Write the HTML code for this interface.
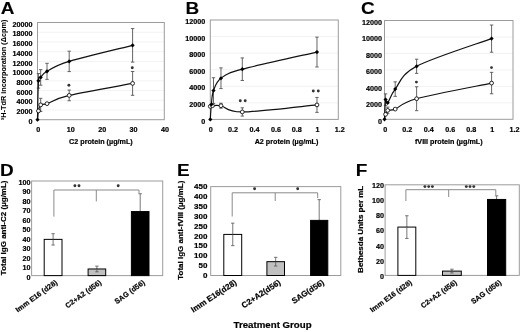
<!DOCTYPE html>
<html><head><meta charset="utf-8"><style>
html,body{margin:0;padding:0;background:#fff;}
svg{display:block;filter:grayscale(100%) blur(0.3px);}
text{font-family:"Liberation Sans", sans-serif;stroke:#000;stroke-width:0.2px;}
</style></head><body>
<svg width="520" height="332" viewBox="0 0 520 332">
<rect width="520" height="332" fill="#fff"/>
<text x="32.50" y="123.90" font-size="7.2" text-anchor="end" font-weight="bold" fill="#000">0</text>
<line x1="37.50" y1="109.98" x2="164.30" y2="109.98" stroke="#f3f3f3" stroke-width="1"/>
<text x="32.50" y="114.18" font-size="7.2" text-anchor="end" font-weight="bold" fill="#000">2000</text>
<line x1="37.50" y1="100.26" x2="164.30" y2="100.26" stroke="#f3f3f3" stroke-width="1"/>
<text x="32.50" y="104.46" font-size="7.2" text-anchor="end" font-weight="bold" fill="#000">4000</text>
<line x1="37.50" y1="90.54" x2="164.30" y2="90.54" stroke="#f3f3f3" stroke-width="1"/>
<text x="32.50" y="94.74" font-size="7.2" text-anchor="end" font-weight="bold" fill="#000">6000</text>
<line x1="37.50" y1="80.82" x2="164.30" y2="80.82" stroke="#f3f3f3" stroke-width="1"/>
<text x="32.50" y="85.02" font-size="7.2" text-anchor="end" font-weight="bold" fill="#000">8000</text>
<line x1="37.50" y1="71.10" x2="164.30" y2="71.10" stroke="#f3f3f3" stroke-width="1"/>
<text x="32.50" y="75.30" font-size="7.2" text-anchor="end" font-weight="bold" fill="#000">10000</text>
<line x1="37.50" y1="61.38" x2="164.30" y2="61.38" stroke="#f3f3f3" stroke-width="1"/>
<text x="32.50" y="65.58" font-size="7.2" text-anchor="end" font-weight="bold" fill="#000">12000</text>
<line x1="37.50" y1="51.66" x2="164.30" y2="51.66" stroke="#f3f3f3" stroke-width="1"/>
<text x="32.50" y="55.86" font-size="7.2" text-anchor="end" font-weight="bold" fill="#000">14000</text>
<line x1="37.50" y1="41.94" x2="164.30" y2="41.94" stroke="#f3f3f3" stroke-width="1"/>
<text x="32.50" y="46.14" font-size="7.2" text-anchor="end" font-weight="bold" fill="#000">16000</text>
<line x1="37.50" y1="32.22" x2="164.30" y2="32.22" stroke="#f3f3f3" stroke-width="1"/>
<text x="32.50" y="36.42" font-size="7.2" text-anchor="end" font-weight="bold" fill="#000">18000</text>
<text x="32.50" y="26.70" font-size="7.2" text-anchor="end" font-weight="bold" fill="#000">20000</text>
<rect x="37.50" y="22.50" width="126.80" height="97.20" fill="none" stroke="#9c9c9c" stroke-width="1"/>
<text x="38.30" y="131.90" font-size="7.2" text-anchor="middle" font-weight="bold" fill="#000">0</text>
<text x="70.70" y="131.90" font-size="7.2" text-anchor="middle" font-weight="bold" fill="#000">10</text>
<text x="102.30" y="131.90" font-size="7.2" text-anchor="middle" font-weight="bold" fill="#000">20</text>
<text x="133.50" y="131.90" font-size="7.2" text-anchor="middle" font-weight="bold" fill="#000">30</text>
<text x="165.10" y="131.90" font-size="7.2" text-anchor="middle" font-weight="bold" fill="#000">40</text>
<text x="100.90" y="143.90" font-size="7.2" text-anchor="middle" font-weight="bold" fill="#000">C2 protein (µg/mL)</text>
<line x1="38.45" y1="73.53" x2="38.45" y2="88.11" stroke="#555" stroke-width="0.9"/>
<line x1="36.75" y1="73.53" x2="40.15" y2="73.53" stroke="#555" stroke-width="0.9"/>
<line x1="36.75" y1="88.11" x2="40.15" y2="88.11" stroke="#555" stroke-width="0.9"/>
<line x1="40.67" y1="69.64" x2="40.67" y2="85.19" stroke="#555" stroke-width="0.9"/>
<line x1="38.97" y1="69.64" x2="42.37" y2="69.64" stroke="#555" stroke-width="0.9"/>
<line x1="38.97" y1="85.19" x2="42.37" y2="85.19" stroke="#555" stroke-width="0.9"/>
<line x1="47.01" y1="63.32" x2="47.01" y2="79.36" stroke="#555" stroke-width="0.9"/>
<line x1="45.31" y1="63.32" x2="48.71" y2="63.32" stroke="#555" stroke-width="0.9"/>
<line x1="45.31" y1="79.36" x2="48.71" y2="79.36" stroke="#555" stroke-width="0.9"/>
<line x1="69.20" y1="51.17" x2="69.20" y2="71.59" stroke="#555" stroke-width="0.9"/>
<line x1="67.50" y1="51.17" x2="70.90" y2="51.17" stroke="#555" stroke-width="0.9"/>
<line x1="67.50" y1="71.59" x2="70.90" y2="71.59" stroke="#555" stroke-width="0.9"/>
<line x1="132.60" y1="28.58" x2="132.60" y2="62.11" stroke="#555" stroke-width="0.9"/>
<line x1="130.90" y1="28.58" x2="134.30" y2="28.58" stroke="#555" stroke-width="0.9"/>
<line x1="130.90" y1="62.11" x2="134.30" y2="62.11" stroke="#555" stroke-width="0.9"/>
<path d="M37.50,119.70 C37.66,113.22 37.92,87.87 38.45,80.82 C38.98,73.77 39.24,79.00 40.67,77.42 C42.10,75.84 42.25,74.02 47.01,71.34 C51.77,68.67 54.93,65.71 69.20,61.38 C83.47,57.05 122.03,48.02 132.60,45.34" fill="none" stroke="#111" stroke-width="1.2"/>
<line x1="40.67" y1="98.32" x2="40.67" y2="111.44" stroke="#555" stroke-width="0.9"/>
<line x1="38.97" y1="98.32" x2="42.37" y2="98.32" stroke="#555" stroke-width="0.9"/>
<line x1="38.97" y1="111.44" x2="42.37" y2="111.44" stroke="#555" stroke-width="0.9"/>
<line x1="69.20" y1="90.05" x2="69.20" y2="100.75" stroke="#555" stroke-width="0.9"/>
<line x1="67.50" y1="90.05" x2="70.90" y2="90.05" stroke="#555" stroke-width="0.9"/>
<line x1="67.50" y1="100.75" x2="70.90" y2="100.75" stroke="#555" stroke-width="0.9"/>
<line x1="132.60" y1="71.49" x2="132.60" y2="95.30" stroke="#555" stroke-width="0.9"/>
<line x1="130.90" y1="71.49" x2="134.30" y2="71.49" stroke="#555" stroke-width="0.9"/>
<line x1="130.90" y1="95.30" x2="134.30" y2="95.30" stroke="#555" stroke-width="0.9"/>
<path d="M37.50,119.70 C37.66,118.24 37.92,113.42 38.45,110.95 C38.98,108.48 39.24,106.09 40.67,104.88 C42.10,103.66 42.25,105.24 47.01,103.66 C51.77,102.08 54.93,98.78 69.20,95.40 C83.47,92.02 122.03,85.40 132.60,83.40" fill="none" stroke="#111" stroke-width="1.2"/>
<circle cx="38.45" cy="110.95" r="1.9" fill="#fff" stroke="#111" stroke-width="0.9"/>
<circle cx="40.67" cy="104.88" r="1.9" fill="#fff" stroke="#111" stroke-width="0.9"/>
<circle cx="47.01" cy="103.66" r="1.9" fill="#fff" stroke="#111" stroke-width="0.9"/>
<circle cx="69.20" cy="95.40" r="1.9" fill="#fff" stroke="#111" stroke-width="0.9"/>
<circle cx="132.60" cy="83.40" r="1.9" fill="#fff" stroke="#111" stroke-width="0.9"/>
<path d="M37.50,117.60 L39.60,119.70 L37.50,121.80 L35.40,119.70Z" fill="#000"/>
<path d="M38.45,78.72 L40.55,80.82 L38.45,82.92 L36.35,80.82Z" fill="#000"/>
<path d="M40.67,75.32 L42.77,77.42 L40.67,79.52 L38.57,77.42Z" fill="#000"/>
<path d="M47.01,69.24 L49.11,71.34 L47.01,73.44 L44.91,71.34Z" fill="#000"/>
<path d="M69.20,59.28 L71.30,61.38 L69.20,63.48 L67.10,61.38Z" fill="#000"/>
<path d="M132.60,43.24 L134.70,45.34 L132.60,47.44 L130.50,45.34Z" fill="#000"/>
<circle cx="68.90" cy="85.20" r="1.45" fill="#333"/>
<circle cx="132.30" cy="67.80" r="1.45" fill="#333"/>
<text x="6.40" y="69.90" font-size="7.3" text-anchor="middle" font-weight="bold" fill="#000" transform="rotate(-90 6.40 69.90)" style="stroke-width:0.05px">³H-TdR incorporation (Δcpm)</text>
<text x="205.30" y="123.60" font-size="7.2" text-anchor="end" font-weight="bold" fill="#000">0</text>
<line x1="210.30" y1="102.83" x2="338.30" y2="102.83" stroke="#f3f3f3" stroke-width="1"/>
<text x="205.30" y="107.03" font-size="7.2" text-anchor="end" font-weight="bold" fill="#000">2000</text>
<line x1="210.30" y1="86.27" x2="338.30" y2="86.27" stroke="#f3f3f3" stroke-width="1"/>
<text x="205.30" y="90.47" font-size="7.2" text-anchor="end" font-weight="bold" fill="#000">4000</text>
<line x1="210.30" y1="69.70" x2="338.30" y2="69.70" stroke="#f3f3f3" stroke-width="1"/>
<text x="205.30" y="73.90" font-size="7.2" text-anchor="end" font-weight="bold" fill="#000">6000</text>
<line x1="210.30" y1="53.13" x2="338.30" y2="53.13" stroke="#f3f3f3" stroke-width="1"/>
<text x="205.30" y="57.33" font-size="7.2" text-anchor="end" font-weight="bold" fill="#000">8000</text>
<line x1="210.30" y1="36.57" x2="338.30" y2="36.57" stroke="#f3f3f3" stroke-width="1"/>
<text x="205.30" y="40.77" font-size="7.2" text-anchor="end" font-weight="bold" fill="#000">10000</text>
<text x="205.30" y="24.20" font-size="7.2" text-anchor="end" font-weight="bold" fill="#000">12000</text>
<rect x="210.30" y="20.00" width="128.00" height="99.40" fill="none" stroke="#9c9c9c" stroke-width="1"/>
<text x="210.80" y="132.30" font-size="7.2" text-anchor="middle" font-weight="bold" fill="#000">0</text>
<text x="233.10" y="132.30" font-size="7.2" text-anchor="middle" font-weight="bold" fill="#000">0.2</text>
<text x="254.40" y="132.30" font-size="7.2" text-anchor="middle" font-weight="bold" fill="#000">0.4</text>
<text x="275.90" y="132.30" font-size="7.2" text-anchor="middle" font-weight="bold" fill="#000">0.6</text>
<text x="296.70" y="132.30" font-size="7.2" text-anchor="middle" font-weight="bold" fill="#000">0.8</text>
<text x="317.50" y="132.30" font-size="7.2" text-anchor="middle" font-weight="bold" fill="#000">1</text>
<text x="339.80" y="132.30" font-size="7.2" text-anchor="middle" font-weight="bold" fill="#000">1.2</text>
<text x="286.50" y="144.40" font-size="7.2" text-anchor="middle" font-weight="bold" fill="#000">A2 protein (µg/mL)</text>
<line x1="213.50" y1="77.73" x2="213.50" y2="103.41" stroke="#555" stroke-width="0.9"/>
<line x1="211.80" y1="77.73" x2="215.20" y2="77.73" stroke="#555" stroke-width="0.9"/>
<line x1="211.80" y1="103.41" x2="215.20" y2="103.41" stroke="#555" stroke-width="0.9"/>
<line x1="220.97" y1="67.88" x2="220.97" y2="88.59" stroke="#555" stroke-width="0.9"/>
<line x1="219.27" y1="67.88" x2="222.67" y2="67.88" stroke="#555" stroke-width="0.9"/>
<line x1="219.27" y1="88.59" x2="222.67" y2="88.59" stroke="#555" stroke-width="0.9"/>
<line x1="242.30" y1="57.94" x2="242.30" y2="80.47" stroke="#555" stroke-width="0.9"/>
<line x1="240.60" y1="57.94" x2="244.00" y2="57.94" stroke="#555" stroke-width="0.9"/>
<line x1="240.60" y1="80.47" x2="244.00" y2="80.47" stroke="#555" stroke-width="0.9"/>
<line x1="316.97" y1="37.15" x2="316.97" y2="66.97" stroke="#555" stroke-width="0.9"/>
<line x1="315.27" y1="37.15" x2="318.67" y2="37.15" stroke="#555" stroke-width="0.9"/>
<line x1="315.27" y1="66.97" x2="318.67" y2="66.97" stroke="#555" stroke-width="0.9"/>
<path d="M210.30,119.40 C210.48,116.92 210.83,109.29 211.37,104.49 C211.90,99.69 211.90,94.95 213.50,90.57 C215.10,86.20 216.17,81.79 220.97,78.23 C225.77,74.67 226.30,73.57 242.30,69.20 C258.30,64.84 304.52,54.91 316.97,52.06" fill="none" stroke="#111" stroke-width="1.2"/>
<line x1="220.97" y1="103.25" x2="220.97" y2="108.22" stroke="#555" stroke-width="0.9"/>
<line x1="219.27" y1="103.25" x2="222.67" y2="103.25" stroke="#555" stroke-width="0.9"/>
<line x1="219.27" y1="108.22" x2="222.67" y2="108.22" stroke="#555" stroke-width="0.9"/>
<line x1="242.30" y1="107.80" x2="242.30" y2="116.09" stroke="#555" stroke-width="0.9"/>
<line x1="240.60" y1="107.80" x2="244.00" y2="107.80" stroke="#555" stroke-width="0.9"/>
<line x1="240.60" y1="116.09" x2="244.00" y2="116.09" stroke="#555" stroke-width="0.9"/>
<line x1="316.97" y1="97.45" x2="316.97" y2="112.36" stroke="#555" stroke-width="0.9"/>
<line x1="315.27" y1="97.45" x2="318.67" y2="97.45" stroke="#555" stroke-width="0.9"/>
<line x1="315.27" y1="112.36" x2="318.67" y2="112.36" stroke="#555" stroke-width="0.9"/>
<path d="M210.30,106.40 C210.66,106.28 210.66,105.84 212.43,105.73 C214.21,105.62 215.99,104.70 220.97,105.73 C225.94,106.77 226.30,112.08 242.30,111.95 C258.30,111.81 304.52,106.08 316.97,104.90" fill="none" stroke="#111" stroke-width="1.2"/>
<circle cx="210.30" cy="106.40" r="1.9" fill="#fff" stroke="#111" stroke-width="0.9"/>
<circle cx="212.43" cy="105.73" r="1.9" fill="#fff" stroke="#111" stroke-width="0.9"/>
<circle cx="220.97" cy="105.73" r="1.9" fill="#fff" stroke="#111" stroke-width="0.9"/>
<circle cx="242.30" cy="111.95" r="1.9" fill="#fff" stroke="#111" stroke-width="0.9"/>
<circle cx="316.97" cy="104.90" r="1.9" fill="#fff" stroke="#111" stroke-width="0.9"/>
<path d="M210.30,117.30 L212.40,119.40 L210.30,121.50 L208.20,119.40Z" fill="#000"/>
<path d="M211.37,102.39 L213.47,104.49 L211.37,106.59 L209.27,104.49Z" fill="#000"/>
<path d="M213.50,88.47 L215.60,90.57 L213.50,92.67 L211.40,90.57Z" fill="#000"/>
<path d="M220.97,76.13 L223.07,78.23 L220.97,80.33 L218.87,78.23Z" fill="#000"/>
<path d="M242.30,67.10 L244.40,69.20 L242.30,71.30 L240.20,69.20Z" fill="#000"/>
<path d="M316.97,49.96 L319.07,52.06 L316.97,54.16 L314.87,52.06Z" fill="#000"/>
<circle cx="240.30" cy="100.70" r="1.45" fill="#333"/>
<circle cx="245.20" cy="100.70" r="1.45" fill="#333"/>
<circle cx="313.30" cy="91.00" r="1.45" fill="#333"/>
<circle cx="318.30" cy="91.00" r="1.45" fill="#333"/>
<text x="382.00" y="123.50" font-size="7.2" text-anchor="end" font-weight="bold" fill="#000">0</text>
<line x1="384.50" y1="102.83" x2="513.00" y2="102.83" stroke="#f3f3f3" stroke-width="1"/>
<text x="382.00" y="107.03" font-size="7.2" text-anchor="end" font-weight="bold" fill="#000">2000</text>
<line x1="384.50" y1="86.37" x2="513.00" y2="86.37" stroke="#f3f3f3" stroke-width="1"/>
<text x="382.00" y="90.57" font-size="7.2" text-anchor="end" font-weight="bold" fill="#000">4000</text>
<line x1="384.50" y1="69.90" x2="513.00" y2="69.90" stroke="#f3f3f3" stroke-width="1"/>
<text x="382.00" y="74.10" font-size="7.2" text-anchor="end" font-weight="bold" fill="#000">6000</text>
<line x1="384.50" y1="53.43" x2="513.00" y2="53.43" stroke="#f3f3f3" stroke-width="1"/>
<text x="382.00" y="57.63" font-size="7.2" text-anchor="end" font-weight="bold" fill="#000">8000</text>
<line x1="384.50" y1="36.97" x2="513.00" y2="36.97" stroke="#f3f3f3" stroke-width="1"/>
<text x="382.00" y="41.17" font-size="7.2" text-anchor="end" font-weight="bold" fill="#000">10000</text>
<text x="382.00" y="24.70" font-size="7.2" text-anchor="end" font-weight="bold" fill="#000">12000</text>
<rect x="384.50" y="20.50" width="128.50" height="98.80" fill="none" stroke="#9c9c9c" stroke-width="1"/>
<text x="385.20" y="132.20" font-size="7.2" text-anchor="middle" font-weight="bold" fill="#000">0</text>
<text x="407.20" y="132.20" font-size="7.2" text-anchor="middle" font-weight="bold" fill="#000">0.2</text>
<text x="428.70" y="132.20" font-size="7.2" text-anchor="middle" font-weight="bold" fill="#000">0.4</text>
<text x="450.20" y="132.20" font-size="7.2" text-anchor="middle" font-weight="bold" fill="#000">0.6</text>
<text x="471.20" y="132.20" font-size="7.2" text-anchor="middle" font-weight="bold" fill="#000">0.8</text>
<text x="492.20" y="132.20" font-size="7.2" text-anchor="middle" font-weight="bold" fill="#000">1</text>
<text x="514.60" y="132.20" font-size="7.2" text-anchor="middle" font-weight="bold" fill="#000">1.2</text>
<text x="448.75" y="143.80" font-size="7.2" text-anchor="middle" font-weight="bold" fill="#000">fVIII protein (µg/mL)</text>
<line x1="385.57" y1="93.86" x2="385.57" y2="105.39" stroke="#555" stroke-width="0.9"/>
<line x1="383.87" y1="93.86" x2="387.27" y2="93.86" stroke="#555" stroke-width="0.9"/>
<line x1="383.87" y1="105.39" x2="387.27" y2="105.39" stroke="#555" stroke-width="0.9"/>
<line x1="395.21" y1="81.84" x2="395.21" y2="96.33" stroke="#555" stroke-width="0.9"/>
<line x1="393.51" y1="81.84" x2="396.91" y2="81.84" stroke="#555" stroke-width="0.9"/>
<line x1="393.51" y1="96.33" x2="396.91" y2="96.33" stroke="#555" stroke-width="0.9"/>
<line x1="416.62" y1="59.20" x2="416.62" y2="73.36" stroke="#555" stroke-width="0.9"/>
<line x1="414.93" y1="59.20" x2="418.32" y2="59.20" stroke="#555" stroke-width="0.9"/>
<line x1="414.93" y1="73.36" x2="418.32" y2="73.36" stroke="#555" stroke-width="0.9"/>
<line x1="491.58" y1="25.03" x2="491.58" y2="52.20" stroke="#555" stroke-width="0.9"/>
<line x1="489.88" y1="25.03" x2="493.28" y2="25.03" stroke="#555" stroke-width="0.9"/>
<line x1="489.88" y1="52.20" x2="493.28" y2="52.20" stroke="#555" stroke-width="0.9"/>
<path d="M384.50,119.30 C384.68,116.02 385.04,102.37 385.57,99.62 C386.11,96.88 386.11,104.59 387.71,102.83 C389.32,101.08 390.39,95.18 395.21,89.08 C400.03,82.99 400.56,74.69 416.62,66.28 C432.69,57.87 479.09,43.22 491.58,38.61" fill="none" stroke="#111" stroke-width="1.2"/>
<line x1="387.71" y1="107.11" x2="387.71" y2="113.70" stroke="#555" stroke-width="0.9"/>
<line x1="386.01" y1="107.11" x2="389.41" y2="107.11" stroke="#555" stroke-width="0.9"/>
<line x1="386.01" y1="113.70" x2="389.41" y2="113.70" stroke="#555" stroke-width="0.9"/>
<line x1="416.62" y1="86.78" x2="416.62" y2="110.66" stroke="#555" stroke-width="0.9"/>
<line x1="414.93" y1="86.78" x2="418.32" y2="86.78" stroke="#555" stroke-width="0.9"/>
<line x1="414.93" y1="110.66" x2="418.32" y2="110.66" stroke="#555" stroke-width="0.9"/>
<line x1="491.58" y1="72.37" x2="491.58" y2="93.78" stroke="#555" stroke-width="0.9"/>
<line x1="489.88" y1="72.37" x2="493.28" y2="72.37" stroke="#555" stroke-width="0.9"/>
<line x1="489.88" y1="93.78" x2="493.28" y2="93.78" stroke="#555" stroke-width="0.9"/>
<path d="M384.50,119.30 C384.68,118.48 385.04,115.84 385.57,114.36 C386.11,112.88 386.11,111.29 387.71,110.41 C389.32,109.53 390.39,111.04 395.21,109.09 C400.03,107.14 400.56,103.05 416.62,98.72 C432.69,94.38 479.09,85.68 491.58,83.07" fill="none" stroke="#111" stroke-width="1.2"/>
<circle cx="385.57" cy="114.36" r="1.9" fill="#fff" stroke="#111" stroke-width="0.9"/>
<circle cx="387.71" cy="110.41" r="1.9" fill="#fff" stroke="#111" stroke-width="0.9"/>
<circle cx="395.21" cy="109.09" r="1.9" fill="#fff" stroke="#111" stroke-width="0.9"/>
<circle cx="416.62" cy="98.72" r="1.9" fill="#fff" stroke="#111" stroke-width="0.9"/>
<circle cx="491.58" cy="83.07" r="1.9" fill="#fff" stroke="#111" stroke-width="0.9"/>
<path d="M384.50,117.20 L386.60,119.30 L384.50,121.40 L382.40,119.30Z" fill="#000"/>
<path d="M385.57,97.52 L387.67,99.62 L385.57,101.72 L383.47,99.62Z" fill="#000"/>
<path d="M387.71,100.73 L389.81,102.83 L387.71,104.93 L385.61,102.83Z" fill="#000"/>
<path d="M395.21,86.98 L397.31,89.08 L395.21,91.18 L393.11,89.08Z" fill="#000"/>
<path d="M416.62,64.18 L418.73,66.28 L416.62,68.38 L414.52,66.28Z" fill="#000"/>
<path d="M491.58,36.51 L493.68,38.61 L491.58,40.71 L489.48,38.61Z" fill="#000"/>
<circle cx="416.40" cy="82.10" r="1.45" fill="#333"/>
<circle cx="491.50" cy="67.60" r="1.45" fill="#333"/>
<text transform="translate(0.7 13.6) scale(1.15 1)" font-size="16.5" font-weight="bold" style="stroke-width:0.1px">A</text>
<text transform="translate(185.6 13.7) scale(1.15 1)" font-size="16.5" font-weight="bold" style="stroke-width:0.1px">B</text>
<text transform="translate(361.0 14.0) scale(1.15 1)" font-size="16.5" font-weight="bold" style="stroke-width:0.1px">C</text>
<text transform="translate(0.0 176.0) scale(1.15 1)" font-size="16.5" font-weight="bold" style="stroke-width:0.1px">D</text>
<text transform="translate(177.0 175.6) scale(1.15 1)" font-size="16.5" font-weight="bold" style="stroke-width:0.1px">E</text>
<text transform="translate(355.8 175.6) scale(1.15 1)" font-size="16.5" font-weight="bold" style="stroke-width:0.1px">F</text>
<text x="30.60" y="279.60" font-size="7.2" text-anchor="end" font-weight="bold" fill="#000">0</text>
<text x="30.60" y="270.14" font-size="7.2" text-anchor="end" font-weight="bold" fill="#000">10</text>
<text x="30.60" y="260.68" font-size="7.2" text-anchor="end" font-weight="bold" fill="#000">20</text>
<text x="30.60" y="251.22" font-size="7.2" text-anchor="end" font-weight="bold" fill="#000">30</text>
<text x="30.60" y="241.76" font-size="7.2" text-anchor="end" font-weight="bold" fill="#000">40</text>
<text x="30.60" y="232.30" font-size="7.2" text-anchor="end" font-weight="bold" fill="#000">50</text>
<text x="30.60" y="222.84" font-size="7.2" text-anchor="end" font-weight="bold" fill="#000">60</text>
<text x="30.60" y="213.38" font-size="7.2" text-anchor="end" font-weight="bold" fill="#000">70</text>
<text x="30.60" y="203.92" font-size="7.2" text-anchor="end" font-weight="bold" fill="#000">80</text>
<text x="30.60" y="194.46" font-size="7.2" text-anchor="end" font-weight="bold" fill="#000">90</text>
<text x="30.60" y="185.00" font-size="7.2" text-anchor="end" font-weight="bold" fill="#000">100</text>
<rect x="31.60" y="181.00" width="131.10" height="94.60" fill="none" stroke="#9c9c9c" stroke-width="1"/>
<line x1="53.10" y1="233.69" x2="53.10" y2="245.04" stroke="#555" stroke-width="0.8"/>
<line x1="51.40" y1="233.69" x2="54.80" y2="233.69" stroke="#555" stroke-width="0.8"/>
<rect x="44.20" y="239.37" width="17.80" height="36.23" fill="#fff" stroke="#000" stroke-width="1"/>
<line x1="53.10" y1="239.37" x2="53.10" y2="245.04" stroke="#555" stroke-width="0.8"/>
<line x1="51.40" y1="245.04" x2="54.80" y2="245.04" stroke="#555" stroke-width="0.8"/>
<line x1="96.90" y1="266.14" x2="96.90" y2="271.82" stroke="#555" stroke-width="0.8"/>
<line x1="95.20" y1="266.14" x2="98.60" y2="266.14" stroke="#555" stroke-width="0.8"/>
<rect x="88.10" y="268.98" width="17.60" height="6.62" fill="#c0c0c0" stroke="#000" stroke-width="1"/>
<line x1="96.90" y1="268.98" x2="96.90" y2="271.82" stroke="#555" stroke-width="0.8"/>
<line x1="95.20" y1="271.82" x2="98.60" y2="271.82" stroke="#555" stroke-width="0.8"/>
<line x1="140.20" y1="193.77" x2="140.20" y2="211.56" stroke="#555" stroke-width="0.8"/>
<line x1="138.50" y1="193.77" x2="141.90" y2="193.77" stroke="#555" stroke-width="0.8"/>
<rect x="131.40" y="211.56" width="17.60" height="64.04" fill="#000" stroke="#000" stroke-width="1"/>
<path d="M53.90,216.60 V190.00 H139.00 V193.50 M96.30,190.00 V201.40" fill="none" stroke="#8a8a8a" stroke-width="1"/>
<circle cx="74.90" cy="185.70" r="1.45" fill="#333"/>
<circle cx="79.00" cy="185.70" r="1.45" fill="#333"/>
<circle cx="118.20" cy="185.80" r="1.45" fill="#333"/>
<text x="57.90" y="283.50" font-size="7.3" text-anchor="end" font-weight="bold" fill="#000" transform="rotate(-36 57.90 283.50)">Imm E16 (d28)</text>
<text x="101.90" y="283.50" font-size="7.3" text-anchor="end" font-weight="bold" fill="#000" transform="rotate(-36 101.90 283.50)">C2+A2 (d56)</text>
<text x="145.40" y="283.50" font-size="7.3" text-anchor="end" font-weight="bold" fill="#000" transform="rotate(-36 145.40 283.50)">SAG (d56)</text>
<text x="6.00" y="227.80" font-size="8.0" text-anchor="middle" font-weight="bold" fill="#000" transform="rotate(-90 6.00 227.80)">Total IgG anti-C2 (µg/mL)</text>
<text x="207.40" y="278.10" font-size="8.0" text-anchor="end" font-weight="bold" fill="#000">0</text>
<text x="207.40" y="268.22" font-size="8.0" text-anchor="end" font-weight="bold" fill="#000">50</text>
<text x="207.40" y="258.34" font-size="8.0" text-anchor="end" font-weight="bold" fill="#000">100</text>
<text x="207.40" y="248.47" font-size="8.0" text-anchor="end" font-weight="bold" fill="#000">150</text>
<text x="207.40" y="238.59" font-size="8.0" text-anchor="end" font-weight="bold" fill="#000">200</text>
<text x="207.40" y="228.71" font-size="8.0" text-anchor="end" font-weight="bold" fill="#000">250</text>
<text x="207.40" y="218.83" font-size="8.0" text-anchor="end" font-weight="bold" fill="#000">300</text>
<text x="207.40" y="208.96" font-size="8.0" text-anchor="end" font-weight="bold" fill="#000">350</text>
<text x="207.40" y="199.08" font-size="8.0" text-anchor="end" font-weight="bold" fill="#000">400</text>
<text x="207.40" y="189.20" font-size="8.0" text-anchor="end" font-weight="bold" fill="#000">450</text>
<rect x="210.70" y="186.60" width="130.10" height="88.90" fill="none" stroke="#9c9c9c" stroke-width="1"/>
<line x1="232.75" y1="223.15" x2="232.75" y2="245.67" stroke="#555" stroke-width="0.8"/>
<line x1="231.05" y1="223.15" x2="234.45" y2="223.15" stroke="#555" stroke-width="0.8"/>
<rect x="223.80" y="234.41" width="17.90" height="41.09" fill="#fff" stroke="#000" stroke-width="1"/>
<line x1="232.75" y1="234.41" x2="232.75" y2="245.67" stroke="#555" stroke-width="0.8"/>
<line x1="231.05" y1="245.67" x2="234.45" y2="245.67" stroke="#555" stroke-width="0.8"/>
<line x1="275.70" y1="257.32" x2="275.70" y2="266.02" stroke="#555" stroke-width="0.8"/>
<line x1="274.00" y1="257.32" x2="277.40" y2="257.32" stroke="#555" stroke-width="0.8"/>
<rect x="266.90" y="261.67" width="17.60" height="13.83" fill="#c0c0c0" stroke="#000" stroke-width="1"/>
<line x1="275.70" y1="261.67" x2="275.70" y2="266.02" stroke="#555" stroke-width="0.8"/>
<line x1="274.00" y1="266.02" x2="277.40" y2="266.02" stroke="#555" stroke-width="0.8"/>
<line x1="319.20" y1="199.64" x2="319.20" y2="220.38" stroke="#555" stroke-width="0.8"/>
<line x1="317.50" y1="199.64" x2="320.90" y2="199.64" stroke="#555" stroke-width="0.8"/>
<rect x="310.60" y="220.38" width="17.20" height="55.12" fill="#000" stroke="#000" stroke-width="1"/>
<path d="M232.20,216.50 V192.80 H317.70 V198.00 M275.20,192.80 V201.00" fill="none" stroke="#8a8a8a" stroke-width="1"/>
<circle cx="254.60" cy="188.80" r="1.45" fill="#333"/>
<circle cx="297.70" cy="188.80" r="1.45" fill="#333"/>
<text x="237.20" y="283.70" font-size="8.1" text-anchor="end" font-weight="bold" fill="#000" transform="rotate(-33.5 237.20 283.70)">Imm E16(d28)</text>
<text x="281.20" y="283.70" font-size="8.1" text-anchor="end" font-weight="bold" fill="#000" transform="rotate(-33.5 281.20 283.70)">C2+A2(d56)</text>
<text x="324.70" y="283.70" font-size="8.1" text-anchor="end" font-weight="bold" fill="#000" transform="rotate(-33.5 324.70 283.70)">SAG(d56)</text>
<text x="182.90" y="230.20" font-size="8.0" text-anchor="middle" font-weight="bold" fill="#000" transform="rotate(-90 182.90 230.20)">Total IgG anti-fVIII (µg/mL)</text>
<text x="384.10" y="278.70" font-size="7.2" text-anchor="end" font-weight="bold" fill="#000">0</text>
<text x="384.10" y="263.60" font-size="7.2" text-anchor="end" font-weight="bold" fill="#000">20</text>
<text x="384.10" y="248.50" font-size="7.2" text-anchor="end" font-weight="bold" fill="#000">40</text>
<text x="384.10" y="233.40" font-size="7.2" text-anchor="end" font-weight="bold" fill="#000">60</text>
<text x="384.10" y="218.30" font-size="7.2" text-anchor="end" font-weight="bold" fill="#000">80</text>
<text x="384.10" y="203.20" font-size="7.2" text-anchor="end" font-weight="bold" fill="#000">100</text>
<text x="384.10" y="188.10" font-size="7.2" text-anchor="end" font-weight="bold" fill="#000">120</text>
<rect x="385.10" y="184.80" width="134.20" height="90.60" fill="none" stroke="#9c9c9c" stroke-width="1"/>
<line x1="406.85" y1="215.75" x2="406.85" y2="238.41" stroke="#555" stroke-width="0.8"/>
<line x1="405.15" y1="215.75" x2="408.55" y2="215.75" stroke="#555" stroke-width="0.8"/>
<rect x="397.90" y="227.08" width="17.90" height="48.32" fill="#fff" stroke="#000" stroke-width="1"/>
<line x1="406.85" y1="227.08" x2="406.85" y2="238.41" stroke="#555" stroke-width="0.8"/>
<line x1="405.15" y1="238.41" x2="408.55" y2="238.41" stroke="#555" stroke-width="0.8"/>
<line x1="451.90" y1="269.21" x2="451.90" y2="272.98" stroke="#555" stroke-width="0.8"/>
<line x1="450.20" y1="269.21" x2="453.60" y2="269.21" stroke="#555" stroke-width="0.8"/>
<rect x="442.50" y="271.10" width="18.80" height="4.30" fill="#c0c0c0" stroke="#000" stroke-width="1"/>
<line x1="451.90" y1="271.10" x2="451.90" y2="272.98" stroke="#555" stroke-width="0.8"/>
<line x1="450.20" y1="272.98" x2="453.60" y2="272.98" stroke="#555" stroke-width="0.8"/>
<line x1="496.60" y1="195.82" x2="496.60" y2="199.45" stroke="#555" stroke-width="0.8"/>
<line x1="494.90" y1="195.82" x2="498.30" y2="195.82" stroke="#555" stroke-width="0.8"/>
<rect x="487.50" y="199.45" width="18.20" height="75.95" fill="#000" stroke="#000" stroke-width="1"/>
<path d="M405.90,201.00 V189.70 H495.80 V195.00 M448.70,189.70 V197.00" fill="none" stroke="#8a8a8a" stroke-width="1"/>
<circle cx="424.90" cy="186.60" r="1.45" fill="#333"/>
<circle cx="428.70" cy="186.60" r="1.45" fill="#333"/>
<circle cx="432.40" cy="186.60" r="1.45" fill="#333"/>
<circle cx="466.30" cy="186.60" r="1.45" fill="#333"/>
<circle cx="470.00" cy="186.60" r="1.45" fill="#333"/>
<circle cx="473.80" cy="186.60" r="1.45" fill="#333"/>
<text x="412.40" y="283.50" font-size="7.3" text-anchor="end" font-weight="bold" fill="#000" transform="rotate(-36 412.40 283.50)">Imm E16 (d28)</text>
<text x="457.40" y="283.50" font-size="7.3" text-anchor="end" font-weight="bold" fill="#000" transform="rotate(-36 457.40 283.50)">C2+A2 (d56)</text>
<text x="501.90" y="283.50" font-size="7.3" text-anchor="end" font-weight="bold" fill="#000" transform="rotate(-36 501.90 283.50)">SAG (d56)</text>
<text x="362.80" y="229.30" font-size="8.0" text-anchor="middle" font-weight="bold" fill="#000" transform="rotate(-90 362.80 229.30)">Bethesda Units per mL</text>
<text x="272.60" y="328.30" font-size="9.7" text-anchor="middle" font-weight="bold" fill="#000">Treatment Group</text>
</svg>
</body></html>
